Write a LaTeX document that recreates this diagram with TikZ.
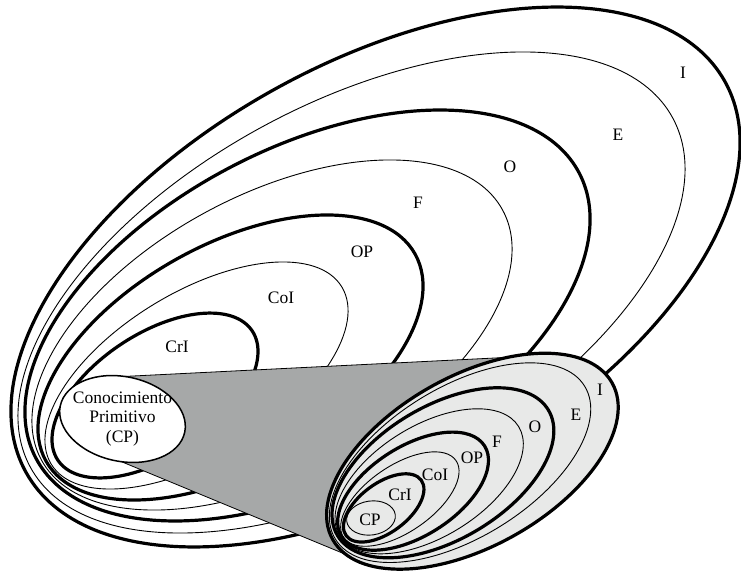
\documentclass[tikz,border=0pt]{standalone}
\usepackage{fontspec}
\setmainfont{Liberation Serif}
\definecolor{conegrey}{RGB}{166,168,168}
\definecolor{smallfill}{RGB}{232,233,232}
\newcommand\rellipse[6]{%
  \begin{scope}[shift={(#2,#3)}, rotate=#4]
    \draw[#1] (0,0) ellipse [x radius=#5, y radius=#6];
  \end{scope}}
\newcommand\outerlevel[1]{%
  \rellipse{thickline,#1}{375.5}{294}{29.27}{400.4}{213.1}}
\newcommand\innerfamily{%
  \rellipse{thinline}{351.5}{278.5}{28.55}{365.6}{188.2}
  \rellipse{thickline}{307.5}{255.5}{27.7}{306.8}{167.1}
  \rellipse{thinline}{272}{236}{28.43}{262.3}{139.5}
  \rellipse{thickline}{230.5}{213.5}{29.33}{211.6}{112.2}
  \rellipse{thinline}{196.5}{195.5}{31.42}{170.2}{83.0}
  \rellipse{thickline}{155}{175.5}{33.6}{116.7}{61.5}}
\begin{document}
\begin{tikzpicture}[x=1pt,y=1pt,
  thickline/.style={line width=3.2pt},
  thinline/.style={line width=0.9pt},
  lbl/.style={font=\fontsize{17.5}{20}\selectfont, inner sep=0pt}]
\useasboundingbox (0,0) rectangle (741,571);

% large nested levels
\outerlevel{}
\innerfamily

% magnifying cone
\coordinate (ctl) at (113,194);
\coordinate (ctr) at (505,213.5);
\coordinate (cmid) at (472,110);
\coordinate (cbr) at (352,14);
\coordinate (cbl) at (115,112);
\filldraw[fill=conegrey, draw=black, line width=0.8pt] (ctl) -- (ctr) -- (cmid) -- (cbr) -- (cbl) -- cycle;

% primitive knowing (large)
\begin{scope}[shift={(122.5,152)}, rotate=-12]
  \filldraw[fill=white, draw=black, line width=1.5pt] (0,0) ellipse [x radius=63.6, y radius=42.3];
\end{scope}
\node[lbl, align=center, font=\fontsize{17.5}{19.5}\selectfont] (cp) at (122.5,152) {Conocimiento\\Primitivo\\(CP)};

% small copy
\begin{scope}[shift={(371,53)}, scale=0.4, shift={(-122,-152)}]
  \outerlevel{fill=smallfill}
\end{scope}
\begin{scope}[shift={(371,53)}, rotate=3, scale=0.4, shift={(-122,-152)}]
  \innerfamily
\end{scope}
\rellipse{thinline}{371}{53}{8}{24.5}{17}

% labels large
\node[lbl] (lcri) at (177,224) {CrI};
\node[lbl] (lcoi) at (281,273) {CoI};
\node[lbl] (lop) at (362,319) {OP};
\node[lbl] (lf) at (418,368) {F};
\node[lbl] (lo) at (510,404) {O};
\node[lbl] (le) at (618,436) {E};
\node[lbl] (li) at (683,498) {I};

% labels small
\node[lbl] (scp) at (370,51) {CP};
\node[lbl] (scri) at (400,76) {CrI};
\node[lbl] (scoi) at (435,96) {CoI};
\node[lbl] (sop) at (472,113) {OP};
\node[lbl] (sf) at (497,129) {F};
\node[lbl] (so) at (535,144) {O};
\node[lbl] (se) at (576,156) {E};
\node[lbl] (si) at (600,181) {I};
\end{tikzpicture}
\end{document}
